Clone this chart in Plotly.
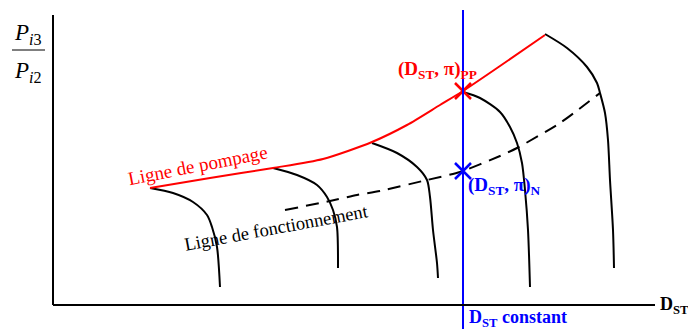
import plotly.graph_objects as go

# Compressor map sketch: surge line, speed lines, operating line
# Coordinates: x = D_ST (arbitrary units), y = pressure ratio Pi3/Pi2 (arbitrary units)

surge_x = [150, 210, 273, 323, 372, 407, 440, 463, 500, 545]
surge_y = [141, 151, 161, 170, 187, 204, 224, 238, 263, 294]

speed1_x = [150, 173, 193, 207, 212, 217, 220]
speed1_y = [141, 136, 127, 114, 102, 82, 42]
speed2_x = [273, 297, 317, 327, 333, 337, 338]
speed2_y = [161, 154, 144, 132, 119, 102, 61]
speed3_x = [372, 397, 417, 427, 430, 433, 437, 438]
speed3_y = [186, 176, 162, 149, 132, 99, 66, 51]
speed4_x = [463, 480, 500, 510, 517, 522, 525, 528, 530]
speed4_y = [237, 231, 217, 202, 186, 166, 139, 99, 42]
speed5_x = [545, 567, 587, 597, 600, 605, 608, 610, 613, 614]
speed5_y = [295, 281, 262, 246, 236, 216, 189, 149, 99, 61]
speed_lines = [(speed1_x, speed1_y), (speed2_x, speed2_y), (speed3_x, speed3_y),
               (speed4_x, speed4_y), (speed5_x, speed5_y)]

oper_x = [285, 330, 357, 380, 427, 460, 500, 517, 560, 600]
oper_y = [119, 128, 134, 138, 149, 157, 173, 181, 206, 236]

dst_const = 463          # constant D_ST
dst_line_y = [0, 319]
pi_pp = 238              # surge point on the constant-D_ST line
pi_n = 158               # nominal point on the constant-D_ST line

# Axis frame
axis_x0, axis_x1 = 53, 655
axis_y0, axis_y1 = 24, 314

RED = "#ff0000"
BLUE = "#0000ff"
SERIF = "Liberation Serif"

fig = go.Figure()

for sx, sy in speed_lines:
    fig.add_trace(go.Scatter(x=sx, y=sy, mode="lines",
                             line=dict(color="black", width=2, shape="spline", smoothing=0.8),
                             hoverinfo="skip", showlegend=False))

fig.add_trace(go.Scatter(x=oper_x, y=oper_y, mode="lines",
                         line=dict(color="black", width=2, dash="13px,8px",
                                   shape="spline", smoothing=0.6),
                         hoverinfo="skip", showlegend=False))

fig.add_trace(go.Scatter(x=surge_x, y=surge_y, mode="lines",
                         line=dict(color=RED, width=2, shape="spline", smoothing=0.7),
                         hoverinfo="skip", showlegend=False))

fig.add_trace(go.Scatter(x=[dst_const], y=[pi_pp], mode="markers",
                         marker=dict(symbol="x-thin", size=16, line=dict(color=RED, width=2.5)),
                         hoverinfo="skip", showlegend=False))
fig.add_trace(go.Scatter(x=[dst_const], y=[pi_n], mode="markers",
                         marker=dict(symbol="x-thin", size=16, line=dict(color=BLUE, width=2.5)),
                         hoverinfo="skip", showlegend=False))

fig.add_trace(go.Scatter(x=[dst_const, dst_const], y=dst_line_y, mode="lines",
                         line=dict(color=BLUE, width=2),
                         hoverinfo="skip", showlegend=False))

# axis lines and fraction bar
fig.add_shape(type="line", x0=axis_x0, x1=axis_x0, y0=axis_y0, y1=axis_y1,
              line=dict(color="black", width=2))
fig.add_shape(type="line", x0=axis_x0, x1=axis_x1, y0=axis_y0, y1=axis_y0,
              line=dict(color="black", width=2))
fig.add_shape(type="line", x0=12, x1=45, y0=279, y1=279,
              line=dict(color="black", width=1.2))

def label(text, x, y, color="black", size=17, angle=0, xanchor="center"):
    fig.add_annotation(x=x, y=y, text=text, showarrow=False, textangle=angle,
                       xanchor=xanchor, yanchor="middle",
                       font=dict(family=SERIF, size=size, color=color))

label("<i>P</i><sub><i>i</i>3</sub>", 28, 295, size=23)
label("<i>P</i><sub><i>i</i>2</sub>", 28, 257, size=23)
label("<b>(D<sub>ST</sub>, π)<sub>PP</sub></b>", 396, 259, color=RED, size=19, xanchor="left")
label("<b>(D<sub>ST</sub>, π)<sub>N</sub></b>", 466, 143, color=BLUE, size=19, xanchor="left")
label("Ligne de pompage", 197, 164, color=RED, size=19, angle=-11)
label("Ligne de fonctionnement", 276, 101, size=18.5, angle=-10.5)
label("<b>D<sub>ST</sub></b>", 658, 24, size=18, xanchor="left")
label("<b>D<sub>ST</sub> constant</b>", 467, 11, color=BLUE, size=18, xanchor="left")

fig.update_layout(
    width=688, height=329,
    margin=dict(l=0, r=0, t=0, b=0),
    paper_bgcolor="white", plot_bgcolor="white",
    xaxis=dict(range=[0, 688], visible=False, fixedrange=True),
    yaxis=dict(range=[0, 329], visible=False, fixedrange=True),
    showlegend=False,
)

fig.write_html("out.html", config={"displayModeBar": False})
